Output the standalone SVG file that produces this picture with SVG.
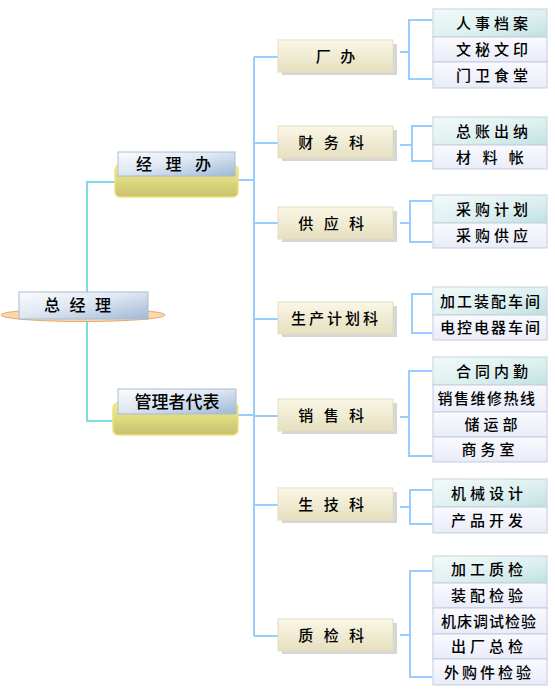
<svg xmlns="http://www.w3.org/2000/svg" width="555" height="699" viewBox="0 0 555 699">
<defs>
<linearGradient id="gMgr" x1="0" y1="0" x2="1" y2="1">
<stop offset="0" stop-color="#fbfcfe"/>
<stop offset="0.45" stop-color="#dfe8f3"/>
<stop offset="1" stop-color="#9fb8d4"/>
</linearGradient>
<linearGradient id="gYel" x1="0" y1="0" x2="0" y2="1">
<stop offset="0" stop-color="#f3ef8e"/>
<stop offset="1" stop-color="#c8c070"/>
</linearGradient>
<linearGradient id="gDept" x1="0" y1="0" x2="0" y2="1">
<stop offset="0" stop-color="#faf7e6"/>
<stop offset="1" stop-color="#e6dfbf"/>
</linearGradient>
<linearGradient id="gLeaf1" x1="0" y1="0" x2="1" y2="1">
<stop offset="0" stop-color="#f2fafa"/>
<stop offset="0.6" stop-color="#dcefef"/>
<stop offset="1" stop-color="#bfe0e0"/>
</linearGradient>
<linearGradient id="gLeaf" x1="0" y1="0" x2="0" y2="1">
<stop offset="0" stop-color="#fafaff"/>
<stop offset="1" stop-color="#e9ecf8"/>
</linearGradient>
</defs>
<style>
.cy{stroke:#7fdbe2;stroke-width:2;fill:none}
.bl{stroke:#99ccff;stroke-width:2;fill:none}
.mgr{fill:url(#gMgr);stroke:#a9bcd2;stroke-width:1}
.yel{fill:url(#gYel);stroke:#efe27a;stroke-width:1.5}
.dept{fill:url(#gDept);stroke:#e2dcc4;stroke-width:1}
.sh{fill:#d6d6d6}
.l1{fill:url(#gLeaf1);stroke:#c4d4dc;stroke-width:1}
.l{fill:url(#gLeaf);stroke:#c4ccdc;stroke-width:1}
text{font-family:"Noto Sans CJK SC","Noto Sans",sans-serif;font-size:15px;font-weight:500;fill:#000;text-anchor:middle}
.t16{font-size:16px}
</style>

<g id="connectors">
<path class="cy" d="M115,182 H87 V421 H113"/>
<path class="bl" d="M238,180 H254 M238,415 H254"/>
<path class="bl" d="M254,57 V636"/>
<path class="bl" d="M254,57 H278 M254,143 H278 M254,223 H278 M254,319 H278 M254,416 H278 M254,505 H278 M254,636 H278"/>
<path class="bl" d="M400,52 H409 M432,20 H409 V79 H432"/>
<path class="bl" d="M400,145 H412 M432,126 H412 V161 H432"/>
<path class="bl" d="M400,223 H410 M432,201 H410 V242 H432"/>
<path class="bl" d="M432,294 H412 V333 H432"/>
<path class="bl" d="M400,417 H409 M432,371 H409 V456 H432"/>
<path class="bl" d="M400,507 H410 M432,490 H410 V524 H432"/>
<path class="bl" d="M400,635 H410 M432,571 H410 V677 H432"/>
</g>

<g id="root">
<ellipse cx="83" cy="315" rx="82" ry="6.5" fill="#fad7ae" stroke="#e7a86a" stroke-width="1"/>
<rect class="mgr" x="19" y="292" width="129" height="27"/>
<text class="t16" x="79" y="311" letter-spacing="3">总 经 理</text>
</g>

<g id="jinglib">
<rect class="yel" x="115" y="165" width="123" height="32" rx="5"/>
<rect class="mgr" x="118" y="152" width="117" height="24"/>
<text class="t16" x="176" y="170" letter-spacing="5">经 理 办</text>
</g>

<g id="guanlizhe">
<rect class="yel" x="113" y="403" width="125" height="32" rx="5"/>
<rect class="mgr" x="118" y="389" width="118" height="25"/>
<text x="177" y="408" style="font-size:17px">管理者代表</text>
</g>

<g id="changban">
<rect class="sh" x="282" y="44" width="115" height="31"/>
<rect class="dept" x="278" y="40" width="115" height="32"/>
<text x="337" y="62" letter-spacing="3">厂 办</text>
</g>
<g id="caiwu">
<rect class="sh" x="282" y="130" width="115" height="31"/>
<rect class="dept" x="278" y="126" width="115" height="32"/>
<text x="333" y="148" letter-spacing="3.5">财 务 科</text>
</g>
<g id="gongying">
<rect class="sh" x="282" y="211" width="115" height="31"/>
<rect class="dept" x="278" y="207" width="115" height="32"/>
<text x="333" y="229" letter-spacing="3.5">供 应 科</text>
</g>
<g id="shengchan">
<rect class="sh" x="282" y="306" width="115" height="31"/>
<rect class="dept" x="278" y="302" width="115" height="32"/>
<text x="336" y="324" letter-spacing="3">生产计划科</text>
</g>
<g id="xiaoshou">
<rect class="sh" x="282" y="403" width="115" height="31"/>
<rect class="dept" x="278" y="399" width="115" height="32"/>
<text x="333" y="421" letter-spacing="3.5">销 售 科</text>
</g>
<g id="shengji">
<rect class="sh" x="282" y="492" width="115" height="31"/>
<rect class="dept" x="278" y="488" width="115" height="32"/>
<text x="333" y="510" letter-spacing="3.5">生 技 科</text>
</g>
<g id="zhijian">
<rect class="sh" x="282" y="623" width="115" height="31"/>
<rect class="dept" x="278" y="619" width="115" height="32"/>
<text x="333" y="641" letter-spacing="3.5">质 检 科</text>
</g>

<g id="leaf-renshi"><rect class="l1" x="433" y="9" width="114" height="28"/><text x="494" y="29" letter-spacing="4">人事档案</text></g>
<g id="leaf-wenmi"><rect class="l" x="433" y="37" width="114" height="25"/><text x="494" y="55" letter-spacing="4">文秘文印</text></g>
<g id="leaf-menwei"><rect class="l" x="433" y="62" width="114" height="26"/><text x="494" y="81" letter-spacing="4">门卫食堂</text></g>

<g id="leaf-zongzhang"><rect class="l1" x="433" y="117" width="114" height="28"/><text x="494" y="137" letter-spacing="4">总账出纳</text></g>
<g id="leaf-cailiao"><rect class="l" x="433" y="145" width="114" height="24"/><text x="492" y="163" letter-spacing="4">材 料 帐</text></g>

<g id="leaf-caigoujh"><rect class="l1" x="433" y="195" width="114" height="28"/><text x="494" y="215" letter-spacing="4">采购计划</text></g>
<g id="leaf-caigougy"><rect class="l" x="433" y="223" width="114" height="25"/><text x="494" y="241" letter-spacing="4">采购供应</text></g>

<g id="leaf-jiagong"><rect class="l1" x="433" y="287" width="114" height="28"/><text x="491" y="307" letter-spacing="2">加工装配车间</text></g>
<g id="leaf-diankong"><rect class="l" x="433" y="315" width="114" height="25"/><text x="491" y="333" letter-spacing="2">电控电器车间</text></g>

<g id="leaf-hetong"><rect class="l1" x="433" y="357" width="114" height="28"/><text x="494" y="377" letter-spacing="4">合同内勤</text></g>
<g id="leaf-xiaoshouwx"><rect class="l" x="433" y="385" width="114" height="27"/><text x="487" y="404" letter-spacing="1.5">销售维修热线</text></g>
<g id="leaf-chuyun"><rect class="l" x="433" y="412" width="114" height="25"/><text x="493" y="430" letter-spacing="4">储运部</text></g>
<g id="leaf-shangwu"><rect class="l" x="433" y="437" width="114" height="25"/><text x="490" y="455" letter-spacing="4">商务室</text></g>

<g id="leaf-jixie"><rect class="l1" x="433" y="479" width="114" height="28"/><text x="489" y="499" letter-spacing="4">机械设计</text></g>
<g id="leaf-chanpin"><rect class="l" x="433" y="507" width="114" height="26"/><text x="489" y="526" letter-spacing="4">产品开发</text></g>

<g id="leaf-jiagongzj"><rect class="l1" x="433" y="556" width="114" height="27"/><text x="489" y="575" letter-spacing="4">加工质检</text></g>
<g id="leaf-zhuangpei"><rect class="l" x="433" y="583" width="114" height="25"/><text x="489" y="601" letter-spacing="4">装配检验</text></g>
<g id="leaf-jichuang"><rect class="l" x="433" y="608" width="114" height="26"/><text x="489" y="627" letter-spacing="1">机床调试检验</text></g>
<g id="leaf-chuchang"><rect class="l" x="433" y="634" width="114" height="25"/><text x="489" y="652" letter-spacing="4">出厂总检</text></g>
<g id="leaf-waigou"><rect class="l" x="433" y="659" width="114" height="26"/><text x="489" y="678" letter-spacing="3">外购件检验</text></g>
</svg>
